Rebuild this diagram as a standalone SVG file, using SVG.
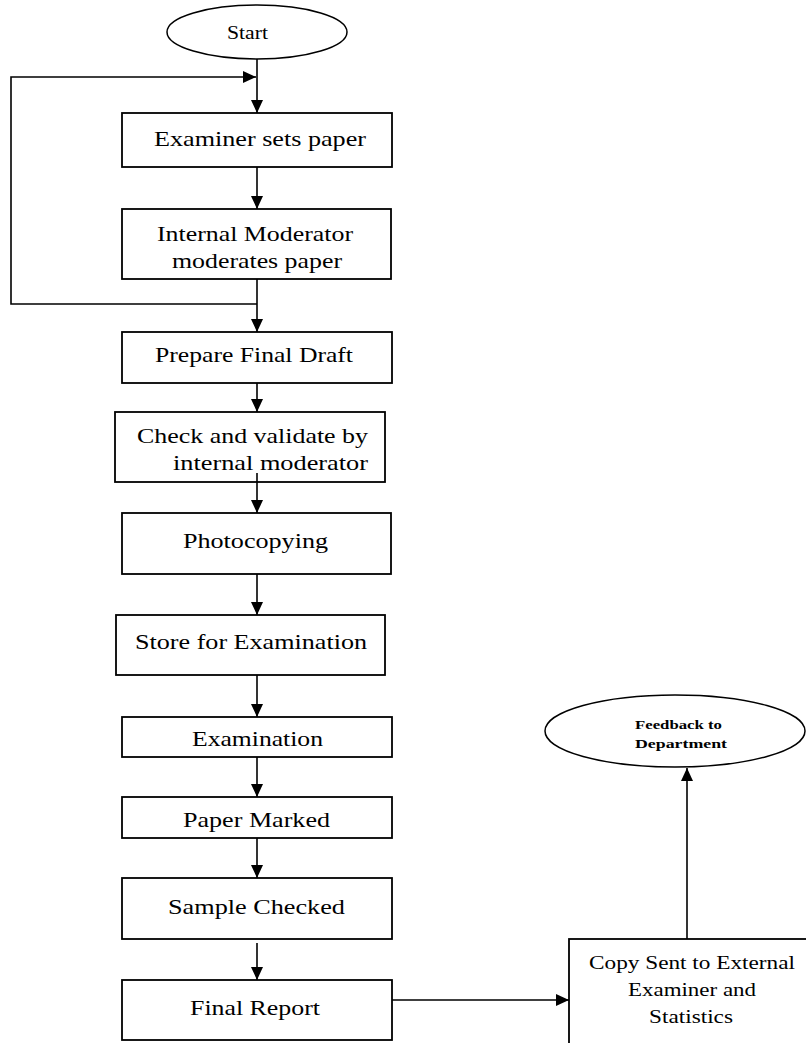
<svg xmlns="http://www.w3.org/2000/svg" width="806" height="1043" viewBox="0 0 806 1043">
<defs>
<style>
.box{fill:#fff;stroke:#000;stroke-width:1.8}
.ell{fill:#fff;stroke:#000;stroke-width:1.5}
.t{font-family:"Liberation Serif","Times New Roman",serif;font-size:21px;fill:#000;text-anchor:middle}
.s{font-family:"Liberation Serif","Times New Roman",serif;font-size:18px;fill:#000;text-anchor:middle}
.f{font-family:"Liberation Serif","Times New Roman",serif;font-size:13px;font-weight:bold;fill:#000;text-anchor:middle}
.c{fill:none;stroke:#000;stroke-width:1.6}
</style>
<marker id="ah" markerUnits="userSpaceOnUse" markerWidth="13" markerHeight="12" refX="13" refY="6" orient="auto">
<path d="M0,0 L13,6 L0,12 z" fill="#000"/>
</marker>
</defs>
<rect width="806" height="1043" fill="#fff"/>
<g id="connectors">
<line class="c" x1="257" y1="59" x2="257" y2="113" marker-end="url(#ah)"/>
<path class="c" d="M257,304 H11 V77 H256" marker-end="url(#ah)"/>
<line class="c" x1="257" y1="167" x2="257" y2="209" marker-end="url(#ah)"/>
<line class="c" x1="257" y1="279" x2="257" y2="332" marker-end="url(#ah)"/>
<line class="c" x1="257" y1="383" x2="257" y2="412" marker-end="url(#ah)"/>
<line class="c" x1="257" y1="574" x2="257" y2="615" marker-end="url(#ah)"/>
<line class="c" x1="257" y1="675" x2="257" y2="717" marker-end="url(#ah)"/>
<line class="c" x1="257" y1="757" x2="257" y2="797" marker-end="url(#ah)"/>
<line class="c" x1="257" y1="838" x2="257" y2="878" marker-end="url(#ah)"/>
<line class="c" x1="257" y1="943" x2="257" y2="980" marker-end="url(#ah)"/>
<line class="c" x1="392" y1="1000" x2="569" y2="1000" marker-end="url(#ah)"/>
<line class="c" x1="687" y1="939" x2="687" y2="768" marker-end="url(#ah)"/>
</g>
<g id="start">
<ellipse class="ell" cx="257" cy="32" rx="90" ry="27"/>
<text class="s" x="247.5" y="39" font-size="15" textLength="41" lengthAdjust="spacingAndGlyphs">Start</text>
</g>
<g id="n1">
<rect class="box" x="122" y="113" width="270" height="54"/>
<text class="t" x="260" y="146" textLength="212" lengthAdjust="spacingAndGlyphs">Examiner sets paper</text>
</g>
<g id="n2">
<rect class="box" x="122" y="209" width="269" height="70"/>
<text class="t" x="255" y="241" textLength="196" lengthAdjust="spacingAndGlyphs">Internal Moderator</text>
<text class="t" x="257" y="268" textLength="170" lengthAdjust="spacingAndGlyphs">moderates paper</text>
</g>
<g id="n3">
<rect class="box" x="122" y="332" width="270" height="51"/>
<text class="t" x="254" y="362" textLength="198" lengthAdjust="spacingAndGlyphs">Prepare Final Draft</text>
</g>
<g id="n4">
<rect class="box" x="115" y="412" width="270" height="70"/>
<text class="t" x="252.5" y="443" textLength="231" lengthAdjust="spacingAndGlyphs">Check and validate by</text>
<text class="t" x="270.5" y="470" textLength="195" lengthAdjust="spacingAndGlyphs">internal moderator</text>
</g>
<line class="c" x1="257" y1="473" x2="257" y2="513" marker-end="url(#ah)"/>
<g id="n5">
<rect class="box" x="122" y="513" width="269" height="61"/>
<text class="t" x="255.5" y="548" textLength="145" lengthAdjust="spacingAndGlyphs">Photocopying</text>
</g>
<g id="n6">
<rect class="box" x="116" y="615" width="269" height="60"/>
<text class="t" x="251" y="649" textLength="232" lengthAdjust="spacingAndGlyphs">Store for Examination</text>
</g>
<g id="n7">
<rect class="box" x="122" y="717" width="270" height="40"/>
<text class="t" x="257.5" y="746" textLength="131" lengthAdjust="spacingAndGlyphs">Examination</text>
</g>
<g id="n8">
<rect class="box" x="122" y="797" width="270" height="41"/>
<text class="t" x="256.5" y="827" textLength="147" lengthAdjust="spacingAndGlyphs">Paper Marked</text>
</g>
<g id="n9">
<rect class="box" x="122" y="878" width="270" height="61"/>
<text class="t" x="256.5" y="914" textLength="177" lengthAdjust="spacingAndGlyphs">Sample Checked</text>
</g>
<g id="n10">
<rect class="box" x="122" y="980" width="270" height="60"/>
<text class="t" x="255" y="1015" textLength="130" lengthAdjust="spacingAndGlyphs">Final Report</text>
</g>
<g id="n11">
<rect class="box" x="569" y="939" width="260" height="130"/>
<text class="s" x="692" y="969" textLength="206" lengthAdjust="spacingAndGlyphs">Copy Sent to External</text>
<text class="s" x="692" y="996" textLength="128" lengthAdjust="spacingAndGlyphs">Examiner and</text>
<text class="s" x="691" y="1023" textLength="84" lengthAdjust="spacingAndGlyphs">Statistics</text>
</g>
<g id="feedback">
<ellipse class="ell" cx="675" cy="731" rx="130" ry="36"/>
<text class="f" x="678.5" y="729" textLength="87" lengthAdjust="spacingAndGlyphs">Feedback to</text>
<text class="f" x="681" y="748" textLength="92" lengthAdjust="spacingAndGlyphs">Department</text>
</g>
</svg>
